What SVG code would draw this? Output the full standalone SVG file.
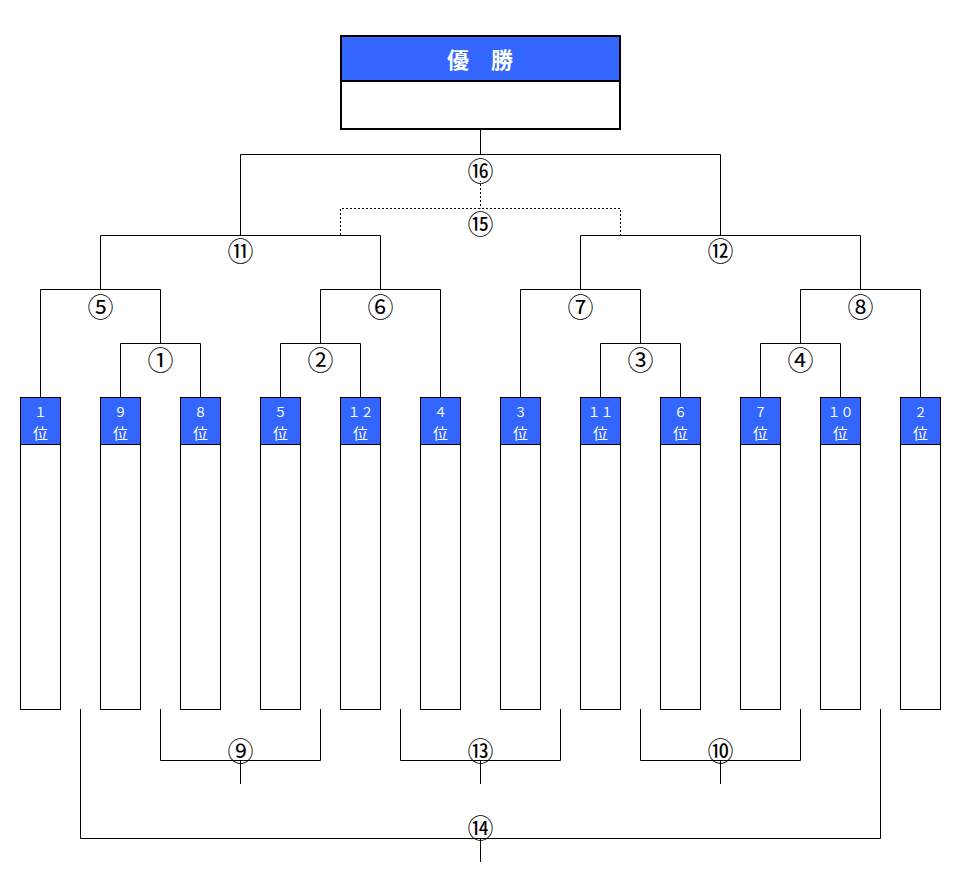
<svg xmlns="http://www.w3.org/2000/svg" width="961" height="887" viewBox="0 0 961 887">
<style>
.ln{stroke:#000;stroke-width:1;fill:none}
.dot{stroke:#000;stroke-width:1;fill:none;stroke-dasharray:2 2}
.box{fill:#fff;stroke:#000;stroke-width:1}
.hd{fill:#3366ff}
.num{font-family:"Noto Sans CJK JP","DejaVu Sans",sans-serif;font-size:26px;fill:#000;text-anchor:middle;dominant-baseline:central}
.rk{font-family:"Noto Sans CJK JP","Liberation Sans",sans-serif;fill:#fff;text-anchor:middle}
.dg{font-size:13px}
.ch{font-size:15px}
.ttl{font-family:"Noto Sans CJK JP",sans-serif;font-size:22px;font-weight:bold;fill:#fff;text-anchor:middle}
</style>
<rect width="961" height="887" fill="#fff"/>
<g id="winner">
<rect x="341" y="36" width="279" height="45" class="hd"/>
<rect x="341" y="36" width="279" height="93" fill="none" stroke="#000" stroke-width="2"/>
<line x1="341" y1="81" x2="620" y2="81" stroke="#000" stroke-width="2"/>
<text x="480" y="68" class="ttl">優　勝</text>
</g>
<g id="connectors">
<path class="ln" d="M480.5,130V154.5M240.5,235.5V154.5H720.5V235.5"/>
<path class="dot" d="M480.5,180V208.5M340.5,235V208.5H620.5V235"/>
<path class="ln" d="M100.5,289V235.5H380.5V289M580.5,289V235.5H860.5V289"/>
<path class="ln" d="M40.5,397V289.5H160.5V343M120.5,397V343.5H200.5V397"/>
<path class="ln" d="M320.5,343V289.5H440.5V397M280.5,397V343.5H360.5V397"/>
<path class="ln" d="M520.5,397V289.5H640.5V343M600.5,397V343.5H680.5V397"/>
<path class="ln" d="M800.5,343V289.5H920.5V397M760.5,397V343.5H840.5V397"/>
<path class="ln" d="M160.5,709V760.5H320.5V709M240.5,760V784"/>
<path class="ln" d="M400.5,709V760.5H560.5V709M480.5,760V784"/>
<path class="ln" d="M640.5,709V760.5H800.5V709M720.5,760V784"/>
<path class="ln" d="M80.5,709V838.5H880.5V709M480.5,838V862"/>
</g>
<g id="labels">
<rect x="467" y="157" width="27" height="24" fill="#fff"/>
<text x="480.5" y="169" class="num">⑯</text>
<rect x="467" y="210" width="27" height="24" fill="#fff"/>
<text x="480.5" y="222.5" class="num">⑮</text>
<text x="240.5" y="249" class="num">⑪</text>
<text x="720.5" y="249" class="num">⑫</text>
<text x="100.5" y="305" class="num">⑤</text>
<text x="380.5" y="305" class="num">⑥</text>
<text x="580.5" y="305" class="num">⑦</text>
<text x="860.5" y="305" class="num">⑧</text>
<text x="160.5" y="358" class="num">①</text>
<text x="320.5" y="358" class="num">②</text>
<text x="640.5" y="358" class="num">③</text>
<text x="800.5" y="358" class="num">④</text>
<text x="240.5" y="749" class="num">⑨</text>
<text x="480.5" y="749" class="num">⑬</text>
<text x="720.5" y="749" class="num">⑩</text>
<text x="480.5" y="826" class="num">⑭</text>
</g>
<g id="slots">
<g id="s1"><rect x="20.5" y="397.5" width="40" height="312" class="box"/><rect x="21" y="398" width="39" height="46" class="hd"/><line x1="20.5" y1="444.5" x2="60.5" y2="444.5" class="ln"/><text x="40.5" y="417" class="rk dg">１</text><text x="40.5" y="438.5" class="rk ch">位</text></g>
<g id="s2"><rect x="100.5" y="397.5" width="40" height="312" class="box"/><rect x="101" y="398" width="39" height="46" class="hd"/><line x1="100.5" y1="444.5" x2="140.5" y2="444.5" class="ln"/><text x="120.5" y="417" class="rk dg">９</text><text x="120.5" y="438.5" class="rk ch">位</text></g>
<g id="s3"><rect x="180.5" y="397.5" width="40" height="312" class="box"/><rect x="181" y="398" width="39" height="46" class="hd"/><line x1="180.5" y1="444.5" x2="220.5" y2="444.5" class="ln"/><text x="200.5" y="417" class="rk dg">８</text><text x="200.5" y="438.5" class="rk ch">位</text></g>
<g id="s4"><rect x="260.5" y="397.5" width="40" height="312" class="box"/><rect x="261" y="398" width="39" height="46" class="hd"/><line x1="260.5" y1="444.5" x2="300.5" y2="444.5" class="ln"/><text x="280.5" y="417" class="rk dg">５</text><text x="280.5" y="438.5" class="rk ch">位</text></g>
<g id="s5"><rect x="340.5" y="397.5" width="40" height="312" class="box"/><rect x="341" y="398" width="39" height="46" class="hd"/><line x1="340.5" y1="444.5" x2="380.5" y2="444.5" class="ln"/><text x="360.5" y="417" class="rk dg">１２</text><text x="360.5" y="438.5" class="rk ch">位</text></g>
<g id="s6"><rect x="420.5" y="397.5" width="40" height="312" class="box"/><rect x="421" y="398" width="39" height="46" class="hd"/><line x1="420.5" y1="444.5" x2="460.5" y2="444.5" class="ln"/><text x="440.5" y="417" class="rk dg">４</text><text x="440.5" y="438.5" class="rk ch">位</text></g>
<g id="s7"><rect x="500.5" y="397.5" width="40" height="312" class="box"/><rect x="501" y="398" width="39" height="46" class="hd"/><line x1="500.5" y1="444.5" x2="540.5" y2="444.5" class="ln"/><text x="520.5" y="417" class="rk dg">３</text><text x="520.5" y="438.5" class="rk ch">位</text></g>
<g id="s8"><rect x="580.5" y="397.5" width="40" height="312" class="box"/><rect x="581" y="398" width="39" height="46" class="hd"/><line x1="580.5" y1="444.5" x2="620.5" y2="444.5" class="ln"/><text x="600.5" y="417" class="rk dg">１１</text><text x="600.5" y="438.5" class="rk ch">位</text></g>
<g id="s9"><rect x="660.5" y="397.5" width="40" height="312" class="box"/><rect x="661" y="398" width="39" height="46" class="hd"/><line x1="660.5" y1="444.5" x2="700.5" y2="444.5" class="ln"/><text x="680.5" y="417" class="rk dg">６</text><text x="680.5" y="438.5" class="rk ch">位</text></g>
<g id="s10"><rect x="740.5" y="397.5" width="40" height="312" class="box"/><rect x="741" y="398" width="39" height="46" class="hd"/><line x1="740.5" y1="444.5" x2="780.5" y2="444.5" class="ln"/><text x="760.5" y="417" class="rk dg">７</text><text x="760.5" y="438.5" class="rk ch">位</text></g>
<g id="s11"><rect x="820.5" y="397.5" width="40" height="312" class="box"/><rect x="821" y="398" width="39" height="46" class="hd"/><line x1="820.5" y1="444.5" x2="860.5" y2="444.5" class="ln"/><text x="840.5" y="417" class="rk dg">１０</text><text x="840.5" y="438.5" class="rk ch">位</text></g>
<g id="s12"><rect x="900.5" y="397.5" width="40" height="312" class="box"/><rect x="901" y="398" width="39" height="46" class="hd"/><line x1="900.5" y1="444.5" x2="940.5" y2="444.5" class="ln"/><text x="920.5" y="417" class="rk dg">２</text><text x="920.5" y="438.5" class="rk ch">位</text></g>
</g>
</svg>
